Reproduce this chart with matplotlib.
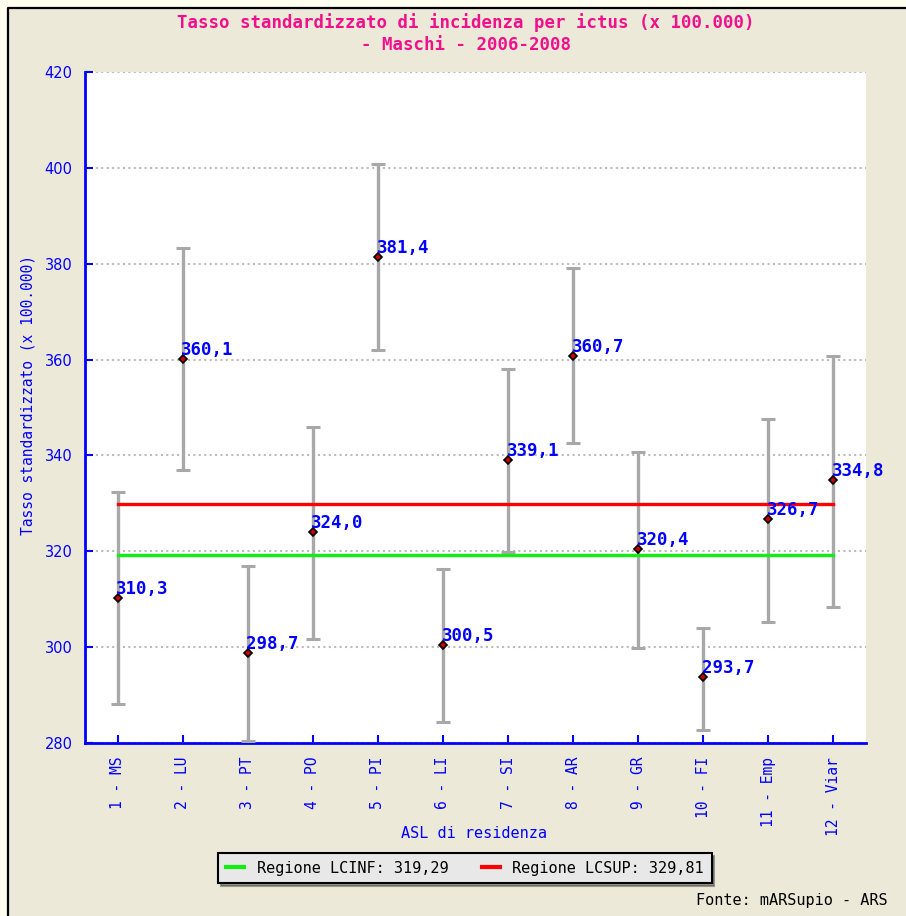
import matplotlib.pyplot as plt
from matplotlib.patches import Rectangle
from matplotlib.lines import Line2D

# ASL data: rates and 95% confidence limits
asl = ["1 - MS", "2 - LU", "3 - PT", "4 - PO", "5 - PI", "6 - LI",
       "7 - SI", "8 - AR", "9 - GR", "10 - FI", "11 - Emp", "12 - Viar"]
tasso = [310.3, 360.1, 298.7, 324.0, 381.4, 300.5,
         339.1, 360.7, 320.4, 293.7, 326.7, 334.8]
lc_inf = [288.1, 336.9, 280.4, 301.6, 362.1, 284.3,
          319.8, 342.6, 299.8, 282.8, 305.2, 308.3]
lc_sup = [332.3, 383.2, 316.9, 345.9, 400.8, 316.4,
          358.0, 379.1, 340.7, 303.9, 347.7, 360.8]
regione_inf = 319.29
regione_sup = 329.81
yticks = [280, 300, 320, 340, 360, 380, 400, 420]

BLUE = "#0000FF"
MONO = "DejaVu Sans Mono"


def fmt(v, nd=1):
    return f"{v:.{nd}f}".replace(".", ",")


fig = plt.figure(figsize=(9.06, 9.16), dpi=100, facecolor="#FFFFF0")
# beige panel, black border only on top and left
x0, y1 = 8 / 906, 1 - 8 / 916
fig.patches.append(Rectangle((x0, 0), 1 - x0, y1, transform=fig.transFigure,
                             facecolor="#ECE9D8", edgecolor="none", zorder=-10))
fig.lines.append(Line2D([x0, x0, 1], [0, y1, y1], transform=fig.transFigure,
                        color="black", lw=1.6, zorder=-9))

ax = fig.add_axes([85 / 906, 1 - 743 / 916, 781 / 906, 671 / 916])
ax.set_facecolor("white")

x = list(range(1, len(asl) + 1))
yerr = [[t - lo for t, lo in zip(tasso, lc_inf)],
        [hi - t for t, hi in zip(tasso, lc_sup)]]
ax.errorbar(x, tasso, yerr=yerr, fmt="none", ecolor="#A8A8A8",
            elinewidth=2.4, capsize=5, capthick=2.2, zorder=3)

ax.plot([x[0], x[-1]], [regione_sup, regione_sup], color="#FF0000", lw=2.4, zorder=4)
ax.plot([x[0], x[-1]], [regione_inf, regione_inf], color="#11EE11", lw=2.4, zorder=4)

ax.plot(x, tasso, linestyle="none", marker="D", markersize=4.5,
        markerfacecolor="#CC0000", markeredgecolor="black", markeredgewidth=1.2, zorder=5)

for xi, v in zip(x, tasso):
    ax.annotate(fmt(v), (xi, v), xytext=(-1, 0), textcoords="offset points",
                ha="left", va="bottom", color=BLUE, fontsize=12.5,
                fontweight="bold", family=MONO, zorder=6)

ax.set_xlim(0.5, len(asl) + 0.5)
ax.set_ylim(280, 420)
ax.set_yticks(yticks)
ax.set_xticks(x)
ax.set_xticklabels(asl, rotation=90, family=MONO, fontsize=10.5, color=BLUE)
ax.tick_params(axis="y", colors=BLUE, labelsize=10.5, direction="in",
               length=6, width=1.5, pad=9)
ax.tick_params(axis="x", colors=BLUE, direction="in", length=6, width=1.5, pad=10)

ax.grid(axis="y", color="#BBBBBB", linestyle=(0, (1, 1.6)), linewidth=1.5, zorder=1)
ax.set_axisbelow(True)

for s in ("top", "right"):
    ax.spines[s].set_visible(False)
for s in ("left", "bottom"):
    ax.spines[s].set_color(BLUE)
    ax.spines[s].set_linewidth(2)

# x label sits between the rotated tick labels
ax.set_xlabel("ASL di residenza", family=MONO, fontsize=11, color=BLUE, va="center")
ax.xaxis.set_label_coords((474 - 85) / 781, -90 / 671)
fig.text(28 / 906, 1 - 395 / 916, "Tasso standardizzato (x 100.000)",
         rotation=90, ha="center", va="center", color=BLUE, fontsize=10.5,
         family=MONO)

fig.text(466 / 906, 1 - 23 / 916,
         "Tasso standardizzato di incidenza per ictus (x 100.000)",
         ha="center", va="center", color="#F0108C", fontsize=12.5,
         fontweight="bold", family=MONO)
fig.text(466 / 906, 1 - 45 / 916, "- Maschi - 2006-2008",
         ha="center", va="center", color="#F0108C", fontsize=12.5,
         fontweight="bold", family=MONO)

handles = [Line2D([], [], color="#11EE11", lw=3),
           Line2D([], [], color="#FF0000", lw=3)]
labels = [f"Regione LCINF: {fmt(regione_inf, 2)}",
          f"Regione LCSUP: {fmt(regione_sup, 2)}"]
leg = fig.legend(handles, labels, loc="center", ncol=2,
                 bbox_to_anchor=(465 / 906, 1 - 868 / 916),
                 prop={"family": MONO, "size": 11}, frameon=True,
                 fancybox=False, shadow=True, handlelength=1.2,
                 columnspacing=2.2, borderpad=0.5)
leg.get_frame().set_edgecolor("black")
leg.get_frame().set_facecolor("#E8E8E8")
leg.get_frame().set_linewidth(1.5)

fig.text(888 / 906, 1 - 900 / 916, "Fonte: mARSupio - ARS", ha="right",
         va="center", family=MONO, fontsize=11, color="black")

fig.savefig("out.png", dpi=100, facecolor=fig.get_facecolor())
